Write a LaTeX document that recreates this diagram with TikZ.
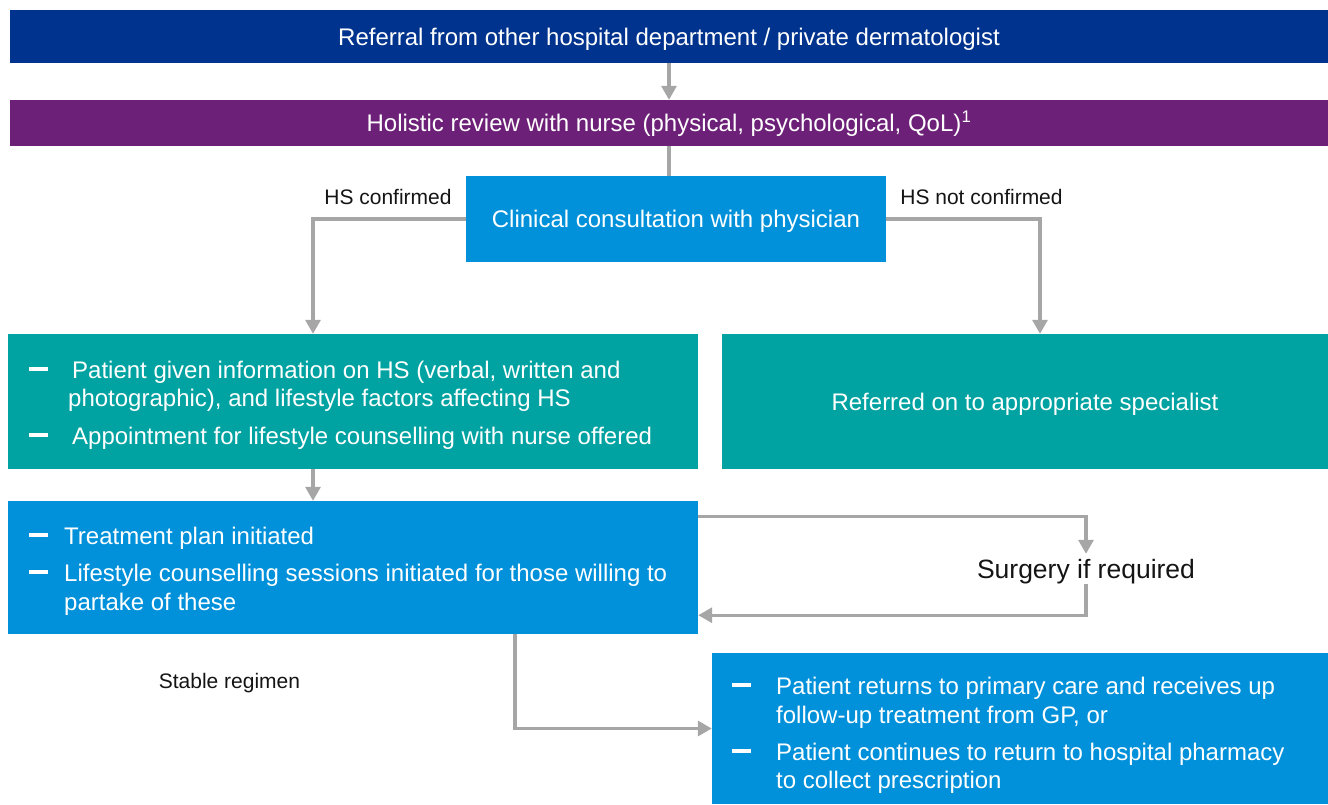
\documentclass[tikz,border=0pt]{standalone}
\usepackage{fontspec}
\setmainfont{Liberation Sans}
\usetikzlibrary{arrows.meta}

\definecolor{navyblue}{RGB}{0,51,141}
\definecolor{plum}{RGB}{109,32,119}
\definecolor{skyblue}{RGB}{0,145,218}
\definecolor{teal}{RGB}{0,163,161}
\definecolor{linegray}{RGB}{166,166,166}
\definecolor{labeltext}{RGB}{20,20,20}

\begin{document}
\begin{tikzpicture}[x=1pt,y=-1pt,
  box/.style={rectangle, inner sep=0pt, text=white,
    text height=17.2pt, text depth=0pt,
    font=\fontsize{24}{29}\selectfont},
  line/.style={inner sep=0pt, text=white, anchor=base west,
    font=\fontsize{24}{29}\selectfont},
  dashmark/.style={rectangle, fill=white, inner sep=0pt,
    minimum width=19pt, minimum height=3.4pt},
  label/.style={inner sep=0pt, anchor=base, text=labeltext,
    font=\fontsize{21}{25}\selectfont},
  conn/.style={draw=linegray, line width=3.2pt},
  arr/.style={conn, -{Triangle[width=15pt,length=14pt]}}
]
\useasboundingbox (0,0) rectangle (1328,804);

% boxes
\node[box, fill=navyblue, minimum width=1318pt, minimum height=53pt]
  (ref) at (669,36.5) {Referral from other hospital department / private dermatologist};
\node[box, fill=plum, minimum width=1318pt, minimum height=46pt]
  (holistic) at (669,123) {Holistic review with nurse (physical, psychological, QoL)\textsuperscript{1}};
\node[box, fill=skyblue, minimum width=420pt, minimum height=86pt]
  (clin) at (676,219) {Clinical consultation with physician};
\node[box, fill=teal, minimum width=690pt, minimum height=135pt]
  (info) at (353,401.5) {};
\node[box, fill=teal, minimum width=606pt, minimum height=135pt]
  (spec) at (1025,401.5) {Referred on to appropriate specialist};
\node[box, fill=skyblue, minimum width=690pt, minimum height=133pt]
  (treat) at (353,567.5) {};
\node[box, fill=skyblue, minimum width=616pt, minimum height=151pt]
  (primary) at (1020,728.5) {};

% bullet text in the information box
\node[dashmark] (infod1) at (38,369) {};
\node[line] (infol1) at (72,378.5) {Patient given information on HS (verbal, written and};
\node[line] (infol2) at (68,406.5) {photographic), and lifestyle factors affecting HS};
\node[dashmark] (infod2) at (38,435) {};
\node[line] (infol3) at (72,444.5) {Appointment for lifestyle counselling with nurse offered};

% bullet text in the treatment box
\node[dashmark] (treatd1) at (38,535) {};
\node[line] (treatl1) at (64,544.5) {Treatment plan initiated};
\node[dashmark] (treatd2) at (38,572) {};
\node[line] (treatl2) at (64,581.5) {Lifestyle counselling sessions initiated for those willing to};
\node[line] (treatl3) at (64,610.5) {partake of these};

% bullet text in the follow-up box
\node[dashmark] (primd1) at (741,685) {};
\node[line] (priml1) at (776,694.5) {Patient returns to primary care and receives up};
\node[line] (priml2) at (776,723.5) {follow-up treatment from GP, or};
\node[dashmark] (primd2) at (741,751) {};
\node[line] (priml3) at (776,760.5) {Patient continues to return to hospital pharmacy};
\node[line] (priml4) at (776,788.5) {to collect prescription};

% free-standing labels
\node[label] (conf) at (388,204.5) {HS confirmed};
\node[label] (notconf) at (981.5,204.5) {HS not confirmed};
\node[label] (stable) at (229.5,688.5) {Stable regimen};
\node[inner sep=0pt, minimum height=30pt, text=labeltext,
  text height=19pt, text depth=0pt,
  font=\fontsize{26.5}{31}\selectfont] (surg) at (1086,569) {Surgery if required};

% connectors
\draw[arr] (ref) -- (holistic);
\draw[conn] (holistic.south) -- (holistic.south |- clin.north);
\draw[arr] (clin.west) -| ([xshift=-40pt]info.north);
\draw[arr] (clin.east) -| ([xshift=15pt]spec.north);
\draw[arr] ([xshift=-40pt]info.south) -- ([xshift=-40pt]treat.north);
\draw[arr] ([yshift=-16pt]treat.north east) -| (surg.north);
\draw[arr] (surg.south) |- ([yshift=19pt]treat.south east);
\draw[arr] ([xshift=162pt]treat.south) |- (primary.west);
\end{tikzpicture}
\end{document}
